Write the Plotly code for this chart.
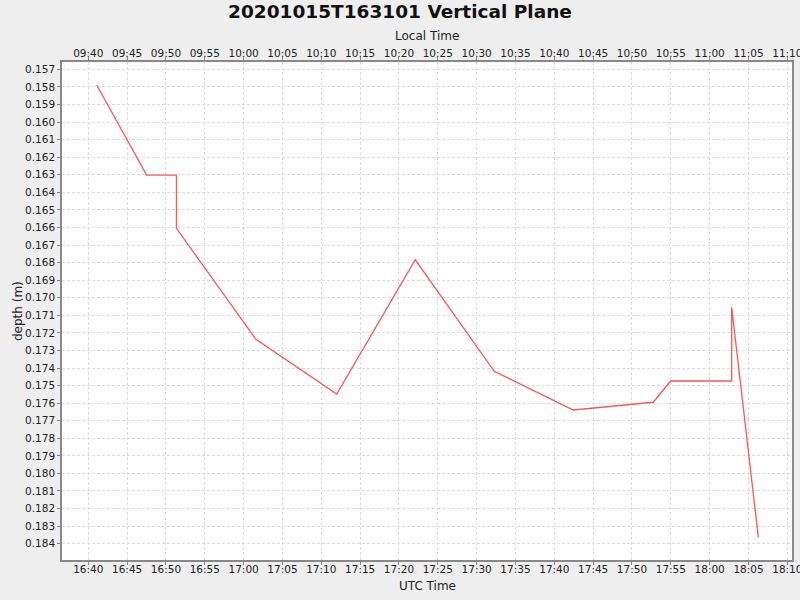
import plotly.graph_objects as go
import pandas as pd

utc_times = ["2020-10-15 16:41:05", "2020-10-15 16:47:31", "2020-10-15 16:51:21", "2020-10-15 16:51:21",
             "2020-10-15 17:01:35", "2020-10-15 17:11:59", "2020-10-15 17:22:06", "2020-10-15 17:32:16",
             "2020-10-15 17:42:26", "2020-10-15 17:52:44", "2020-10-15 17:54:59", "2020-10-15 18:02:50",
             "2020-10-15 18:02:50", "2020-10-15 18:06:16"]
depth = [0.15789, 0.16302, 0.16302, 0.16605, 0.17237, 0.17548, 0.16784, 0.17419,
         0.17639, 0.17595, 0.17474, 0.17474, 0.17055, 0.18364]
utc_offset_hours = -7
x_range_utc = ["2020-10-15 16:36:37", "2020-10-15 18:10:36"]
y_range = [0.18493, 0.15658]

utc = pd.to_datetime(utc_times)
local = utc + pd.Timedelta(hours=utc_offset_hours)
xr_utc = pd.to_datetime(x_range_utc)
xr_local = xr_utc + pd.Timedelta(hours=utc_offset_hours)

font = "DejaVu Sans"
grid = "#dcdcdc"
axcol = "#888888"
txt = "#222222"

fig = go.Figure()
fig.add_trace(go.Scatter(x=utc, y=depth, mode="lines", line=dict(color="#ff5555", width=1.3),
                         showlegend=False, hoverinfo="skip"))
fig.add_trace(go.Scatter(x=local, y=depth, mode="lines", xaxis="x2", line=dict(color="rgba(0,0,0,0)", width=0),
                         showlegend=False, hoverinfo="skip"))

axis_common = dict(type="date", tickformat="%H:%M", dtick=300000, tick0="2020-10-15 00:00:00",
                   showgrid=True, gridcolor=grid, griddash="3px,2px", gridwidth=1,
                   showline=True, linecolor=axcol, linewidth=1.5,
                   ticks="outside", ticklen=3, tickcolor=axcol, automargin=False,
                   ticklabeloverflow="allow", ticklabelstandoff=-4,
                   tickfont=dict(family=font, size=10.5, color=txt), zeroline=False)

fig.update_layout(
    width=800, height=600,
    paper_bgcolor="#eeeeee", plot_bgcolor="white",
    margin=dict(l=62, r=8, t=62, b=40),
    title=dict(text="<b>20201015T163101 Vertical Plane</b>", x=0.5, xanchor="center",
               xref="container", yref="container", y=1 - 12 / 600, yanchor="middle",
               font=dict(family=font, size=18.5, color="#111111")),
    xaxis=dict(**axis_common, range=list(xr_utc)),
    xaxis2=dict(**axis_common, range=list(xr_local), overlaying="x", side="top", anchor="y"),
    yaxis=dict(range=y_range, dtick=0.001, tick0=0.157, tickformat=".3f",
               showgrid=True, gridcolor=grid, griddash="3px,2px", gridwidth=1,
               showline=True, linecolor=axcol, linewidth=1.5, mirror=True,
               ticks="outside", ticklen=3, tickcolor=axcol, automargin=False,
               tickfont=dict(family=font, size=10.5, color=txt), zeroline=False),
    annotations=[
        dict(text="UTC Time", xref="paper", yref="paper", x=0.5, y=-26 / 498, xanchor="center", yanchor="middle",
             showarrow=False, font=dict(family=font, size=12, color=txt)),
        dict(text="Local Time", xref="paper", yref="paper", x=0.5, y=1 + 26 / 498, xanchor="center", yanchor="middle",
             showarrow=False, font=dict(family=font, size=12, color=txt)),
        dict(text="depth (m)", xref="paper", yref="paper", x=-44 / 730, y=0.5, xanchor="center", yanchor="middle",
             textangle=-90, showarrow=False, font=dict(family=font, size=12, color=txt)),
    ],
)

fig.write_html("out.html", config={"displayModeBar": False},
               post_script="document.body.style.margin='0';")
